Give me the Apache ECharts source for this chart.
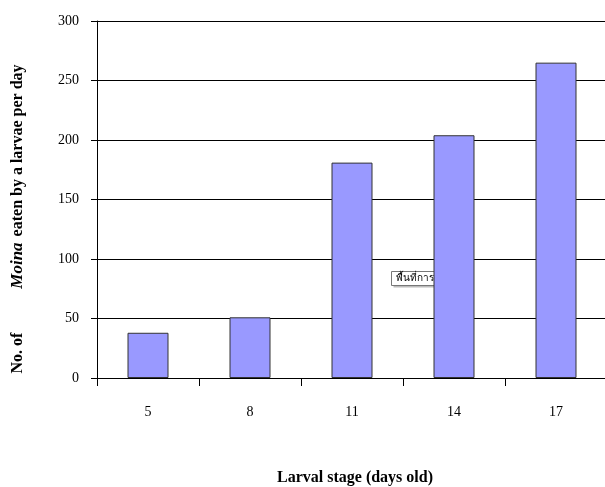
<!DOCTYPE html>
<html><head><meta charset="utf-8">
<script src="https://cdn.jsdelivr.net/npm/echarts@6/dist/echarts.min.js"></script>
<style>html,body{margin:0;padding:0;background:#fff}#c{width:605px;height:487px}</style>
</head><body><div id="c"></div>
<script>
var categories = ['5', '8', '11', '14', '17'];
var values = [38, 51, 181, 204, 265];
var yTicks = [0, 50, 100, 150, 200, 250, 300];

var chart = echarts.init(document.getElementById('c'), null, {renderer: 'canvas'});
var serif = '"Liberation Serif", "Times New Roman", serif';
chart.setOption({
  animation: false,
  grid: {left: 97, top: 21, width: 510, height: 357, containLabel: false, outerBoundsMode: 'none'},
  xAxis: {
    type: 'category', data: categories,
    axisLine: {lineStyle: {color: '#000', width: 1}},
    axisTick: {show: true, length: 8, lineStyle: {color: '#000'}},
    axisLabel: {color: '#000', fontFamily: serif, fontSize: 14, margin: 27},
    name: 'Larval stage (days old)', nameLocation: 'middle', nameGap: 92,
    nameTextStyle: {color: '#000', fontFamily: serif, fontSize: 16, fontWeight: 'bold', padding: [0, 0, 0, 6]}
  },
  yAxis: {
    type: 'value', min: 0, max: 300, interval: 50,
    axisLine: {show: true, lineStyle: {color: '#000', width: 1}},
    axisTick: {show: true, length: 6, lineStyle: {color: '#000'}},
    splitLine: {lineStyle: {color: '#000', width: 1}},
    axisLabel: {color: '#000', fontFamily: serif, fontSize: 14, margin: 18,
      formatter: function (v) { return yTicks.indexOf(v) >= 0 ? String(v) : ''; }}
  },
  series: [{
    type: 'bar', data: values, barWidth: 41,
    itemStyle: {color: '#9999FF', borderColor: '#333', borderWidth: 1}
  }],
  graphic: [{
    type: 'text', x: 18, y: 219, rotation: Math.PI / 2,
    style: {
      text: '{n|No. of}{g1| }{i|Moina}{g2| }{n|eaten by a larvae per day}',
      align: 'center', verticalAlign: 'middle',
      rich: {
        n: {fill: '#000', fontFamily: serif, fontSize: 16, fontWeight: 'bold'},
        i: {fill: '#000', fontFamily: serif, fontSize: 17, fontWeight: 'bold', fontStyle: 'italic'},
        g1: {width: 44, fontSize: 16},
        g2: {width: 6, fontSize: 16}
      }
    }
  }, {
    type: 'group', left: 391, top: 271,
    children: [
      {type: 'rect', shape: {x: 2, y: 2, width: 72, height: 14}, style: {fill: '#bbb'}},
      {type: 'rect', shape: {x: 0, y: 0, width: 72, height: 14}, style: {fill: '#fff', stroke: '#777', lineWidth: 1}},
      {type: 'text', x: 4, y: 7, style: {text: 'พื้นที่การลงจุด', fontSize: 10, fill: '#000', align: 'left', verticalAlign: 'middle', fontFamily: '"DejaVu Sans", "Noto Sans", sans-serif'}}
    ]
  }]
});
</script></body></html>
